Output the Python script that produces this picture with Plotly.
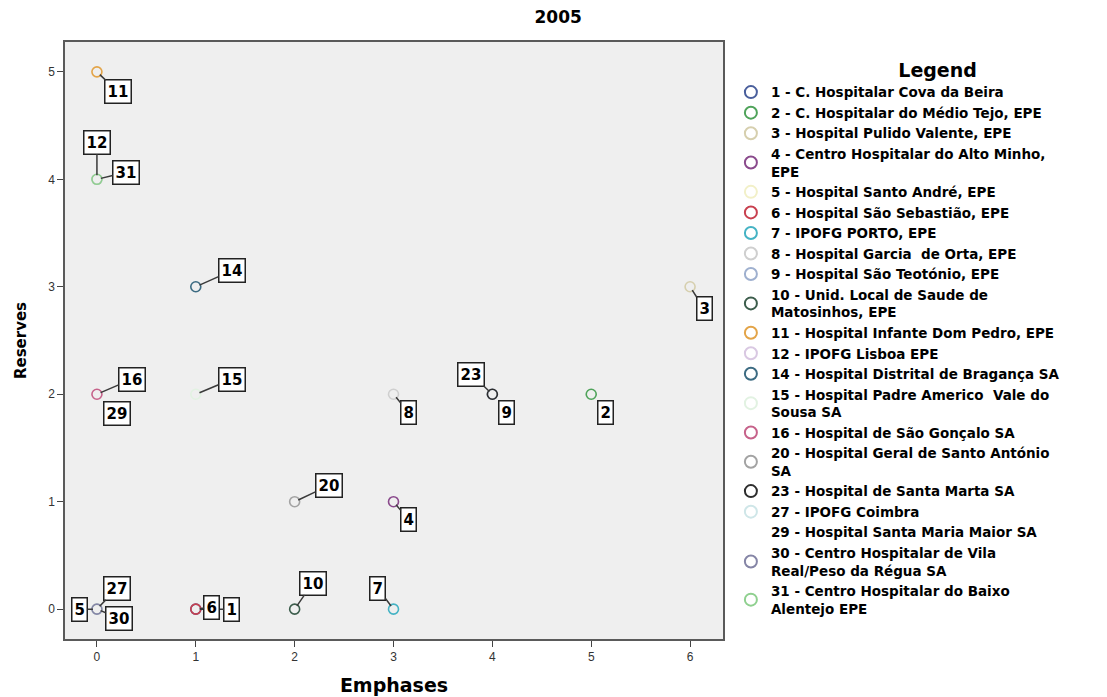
import plotly.graph_objects as go

# ---- data ----
ids = [1, 2, 3, 4, 5, 6, 7, 8, 9, 10, 11, 12, 14, 15, 16, 20, 23, 27, 29, 30, 31]
names = [
    "1 - C. Hospitalar Cova da Beira",
    "2 - C. Hospitalar do Médio Tejo, EPE",
    "3 - Hospital Pulido Valente, EPE",
    "4 - Centro Hospitalar do Alto Minho,<br>EPE",
    "5 - Hospital Santo André, EPE",
    "6 - Hospital São Sebastião, EPE",
    "7 - IPOFG PORTO, EPE",
    "8 - Hospital Garcia  de Orta, EPE",
    "9 - Hospital São Teotónio, EPE",
    "10 - Unid. Local de Saude de<br>Matosinhos, EPE",
    "11 - Hospital Infante Dom Pedro, EPE",
    "12 - IPOFG Lisboa EPE",
    "14 - Hospital Distrital de Bragança SA",
    "15 - Hospital Padre Americo  Vale do<br>Sousa SA",
    "16 - Hospital de São Gonçalo SA",
    "20 - Hospital Geral de Santo António<br>SA",
    "23 - Hospital de Santa Marta SA",
    "27 - IPOFG Coimbra",
    "29 - Hospital Santa Maria Maior SA",
    "30 - Centro Hospitalar de Vila<br>Real/Peso da Régua SA",
    "31 - Centro Hospitalar do Baixo<br>Alentejo EPE",
]
emphases = [1, 5, 6, 3, 0, 1, 3, 3, 4, 2, 0, 0, 1, 1, 0, 2, 4, 0, 0, 0, 0]
reserves = [0, 2, 3, 1, 0, 0, 0, 2, 2, 0, 5, 4, 3, 2, 2, 1, 2, 0, 2, 0, 4]

# ---- styles ----
colors = [
    "#4a5f9c", "#4fa35a", "#d6cfae", "#8a4a8c", "#f2f0c8", "#c8404f", "#45b3c4",
    "#cfcfcf", "#9fb0cf", "#3c5d4c", "#e3a448", "#d9c8e2", "#3c6b82", "#e2f2e2",
    "#c6628a", "#a3a3a3", "#2e2e2e", "#cfe6e8", "rgba(255,255,255,0)", "#8585a6",
    "#8fd08f",
]
# label box offsets (pixels) relative to each point
label_offsets = {
    1: (36, 0), 2: (14, 18), 3: (14, 22), 4: (15, 18), 5: (-17, 0), 6: (16, -2),
    7: (-16, -21), 8: (15, 18), 9: (14, 18), 10: (18, -26), 11: (21, 20),
    12: (0, -37), 14: (36, -16), 15: (36, -15), 16: (35, -15), 20: (34, -16),
    23: (-21, -20), 27: (20, -21), 29: (20, 19), 30: (22, 9), 31: (29, -7),
}

FONT = "Arial, 'Liberation Sans', sans-serif"
WIDE = "'DejaVu Sans', Arial, sans-serif"

fig = go.Figure()
for i, hid in enumerate(ids):
    fig.add_trace(go.Scatter(
        x=[emphases[i]], y=[reserves[i]], mode="markers", name=names[i],
        marker=dict(symbol="circle-open", size=10, color=colors[i],
                    line=dict(width=1.6, color=colors[i])),
    ))

for i, hid in enumerate(ids):
    ax, ay = label_offsets[hid]
    arrow_col = "rgba(0,0,0,0)" if colors[i].startswith("rgba") else "#3a3a3a"
    fig.add_annotation(
        x=emphases[i], y=reserves[i], xref="x", yref="y",
        text=str(hid), showarrow=True, ax=ax, ay=ay,
        arrowhead=0, arrowwidth=1.5, arrowcolor=arrow_col, standoff=4,
        font=dict(family=WIDE, size=15, color="black", weight="bold"),
        bgcolor="white", bordercolor="#222222", borderwidth=1.5, borderpad=2,
    )

fig.update_layout(
    width=1107, height=697,
    margin=dict(l=56, r=392, t=34, b=63),
    paper_bgcolor="white", plot_bgcolor="#efefef",
    font=dict(family=FONT, color="#222222"),
    title=dict(text="2005", x=0.497, xref="container", xanchor="center",
               y=0.987, yref="container", yanchor="middle",
               font=dict(family=WIDE, size=17, color="black", weight="bold")),
    xaxis=dict(range=[-0.323, 6.333], tickvals=[0, 1, 2, 3, 4, 5, 6],
               showgrid=False, zeroline=False, showline=True, mirror=True,
               linecolor="#5a5a5a", linewidth=1.5, ticks="outside", ticklen=6,
               tickcolor="#444444", tickfont=dict(size=12, color="#333333"),
               title=dict(text="Emphases", standoff=16,
                          font=dict(family=WIDE, size=19, color="black", weight="bold"))),
    yaxis=dict(range=[-0.278, 5.278], tickvals=[0, 1, 2, 3, 4, 5],
               showgrid=False, zeroline=False, showline=True, mirror=True,
               linecolor="#5a5a5a", linewidth=1.5, ticks="outside", ticklen=6,
               tickcolor="#444444", tickfont=dict(size=12, color="#333333"),
               title=dict(text="Reserves", standoff=18,
                          font=dict(family=WIDE, size=15, color="black", weight="bold"))),
    legend=dict(
        x=1.012, xanchor="left", y=0.983, yanchor="top",
        title=dict(text="&nbsp;" * 12 + "Legend", side="top center",
                   font=dict(family=WIDE, size=19, color="black", weight="bold")),
        font=dict(family=WIDE, size=13.5, color="black", weight="bold"),
        tracegroupgap=0, itemsizing="constant", bgcolor="rgba(0,0,0,0)",
    ),
    showlegend=True,
)

fig.write_html("out.html")
